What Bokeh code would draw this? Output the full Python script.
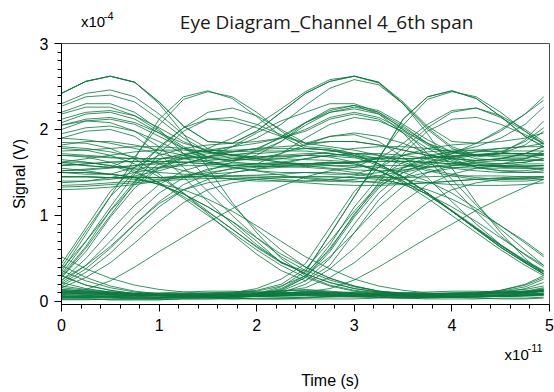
from bokeh.plotting import figure
from bokeh.models import Range1d, FixedTicker
from bokeh.layouts import column
from bokeh.core.properties import value
from bokeh.embed import file_html
from bokeh.resources import INLINE

# Time axis in units of 1e-11 s, signal in units of 1e-4 V
time_e11 = [0.0, 0.25, 0.5, 0.75, 1.0, 1.25, 1.5, 1.75, 2.0, 2.25, 2.5,
            2.75, 3.0, 3.25, 3.5, 3.75, 4.0, 4.25, 4.5, 4.75, 4.94]

x_ticks = [0, 1, 2, 3, 4, 5]
y_ticks = [0, 1, 2, 3]

low_traces = [
    [.06, .05, .05, .04, .04, .05, .05, .06, .06, .07, .08, .07, .06, .05, .05, .05, .05, .06, .06, .07, .08],
    [.10, .09, .08, .07, .07, .07, .08, .08, .09, .10, .11, .09, .07, .05, .04, .03, .03, .03, .04, .04, .05],
    [.03, .03, .02, .02, .02, .03, .03, .03, .04, .04, .05, .06, .07, .08, .08, .08, .09, .10, .11, .12, .13],
    [.14, .12, .10, .09, .08, .08, .08, .09, .10, .12, .14, .12, .10, .08, .07, .06, .06, .06, .07, .08, .10],
    [.08, .07, .06, .06, .05, .05, .05, .05, .06, .06, .07, .08, .09, .09, .09, .09, .10, .10, .11, .12, .14],
    [.30, .19, .13, .09, .07, .06, .05, .05, .06, .07, .08, .07, .06, .05, .05, .05, .05, .06, .06, .07, .08],
    [.42, .28, .18, .12, .09, .07, .06, .06, .07, .09, .12, .11, .10, .09, .08, .08, .08, .09, .10, .12, .16],
    [.12, .11, .10, .09, .09, .09, .10, .10, .11, .12, .13, .11, .09, .08, .07, .07, .07, .08, .10, .15, .22],
    [.04, .05, .06, .07, .07, .06, .05, .04, .03, .03, .04, .06, .08, .10, .10, .11, .12, .12, .11, .10, .09],
    [.16, .13, .11, .10, .10, .11, .12, .12, .11, .10, .09, .08, .07, .07, .07, .06, .05, .04, .03, .03, .04],
    [.22, .15, .11, .09, .08, .08, .08, .08, .09, .10, .11, .10, .08, .07, .06, .05, .05, .05, .06, .06, .07],
    [.06, .05, .05, .04, .04, .05, .05, .06, .06, .07, .08, .07, .06, .06, .05, .05, .06, .08, .13, .20, .30],
    [.52, .38, .27, .19, .14, .11, .09, .08, .08, .09, .10, .10, .09, .08, .08, .08, .09, .09, .10, .11, .12],
    [.09, .08, .08, .07, .06, .06, .06, .07, .07, .08, .09, .10, .10, .09, .08, .07, .06, .06, .07, .08, .10],
    [.02, .02, .03, .04, .04, .04, .04, .03, .03, .03, .03, .03, .03, .04, .04, .05, .05, .06, .07, .09, .12],
    [.11, .10, .09, .08, .07, .06, .06, .06, .06, .07, .08, .08, .07, .07, .06, .06, .06, .07, .08, .10, .13],
    [.07, .06, .06, .05, .05, .06, .07, .08, .08, .08, .07, .06, .05, .05, .04, .04, .05, .06, .08, .10, .14],
    [.13, .11, .09, .08, .07, .07, .07, .07, .08, .09, .10, .09, .08, .07, .06, .06, .06, .06, .06, .07, .09],
    [.05, .06, .07, .08, .09, .09, .08, .07, .06, .05, .05, .05, .06, .07, .08, .09, .10, .11, .12, .14, .18],
    [.18, .14, .11, .09, .08, .07, .07, .07, .07, .08, .09, .10, .11, .11, .10, .09, .08, .08, .09, .11, .15],
]

late_rise_traces = [
    [.06, .05, .05, .04, .04, .05, .05, .06, .08, .14, .28, .58, .98, 1.32, 1.55, 1.66, 1.72, 1.74, 1.75, 1.75, 1.75],
    [.03, .03, .02, .02, .02, .03, .03, .04, .06, .10, .20, .38, .62, .90, 1.16, 1.36, 1.48, 1.55, 1.58, 1.60, 1.60],
    [.14, .12, .10, .09, .08, .08, .08, .09, .10, .12, .16, .28, .45, .68, .93, 1.15, 1.30, 1.38, 1.42, 1.44, 1.45],
    [.30, .19, .13, .09, .07, .06, .05, .06, .09, .17, .35, .78, 1.22, 1.66, 2.12, 2.38, 2.45, 2.36, 2.15, 1.92, 1.80],
    [.08, .07, .06, .06, .05, .05, .05, .06, .08, .13, .28, .62, 1.00, 1.38, 1.72, 1.98, 2.12, 2.14, 2.06, 1.94, 1.84],
    [.10, .09, .08, .07, .07, .07, .08, .08, .09, .10, .11, .15, .25, .40, .57, .74, .90, 1.06, 1.20, 1.33, 1.42],
    [.10, .09, .08, .07, .07, .07, .08, .10, .15, .26, .44, .86, 1.28, 1.56, 1.70, 1.78, 1.82, 1.84, 1.86, 1.90, 1.96],
    [.12, .11, .10, .09, .09, .09, .10, .11, .13, .20, .38, .70, 1.05, 1.36, 1.56, 1.68, 1.74, 1.80, 1.90, 2.06, 2.26],
    [1.50, 1.50, 1.48, 1.44, 1.36, 1.25, 1.10, .93, .70, .45, .33, .60, 1.02, 1.34, 1.50, 1.56, 1.58, 1.58, 1.58, 1.58, 1.58],
    [1.85, 1.84, 1.78, 1.66, 1.48, 1.26, 1.02, .78, .55, .36, .24, .42, .80, 1.18, 1.44, 1.58, 1.66, 1.70, 1.72, 1.72, 1.72],
    [1.78, 1.76, 1.70, 1.60, 1.45, 1.26, 1.05, .84, .63, .45, .35, .78, 1.22, 1.66, 2.12, 2.38, 2.45, 2.36, 2.15, 1.92, 1.80],
    [.36, .24, .16, .11, .08, .06, .05, .05, .07, .12, .24, .50, .90, 1.26, 1.50, 1.62, 1.68, 1.70, 1.70, 1.70, 1.70],
    [.05, .04, .04, .04, .04, .04, .05, .06, .09, .15, .30, .66, 1.10, 1.44, 1.62, 1.70, 1.74, 1.76, 1.78, 1.80, 1.84],
    [.11, .10, .09, .08, .08, .08, .09, .10, .12, .18, .30, .52, .80, 1.10, 1.34, 1.50, 1.58, 1.62, 1.64, 1.64, 1.64],
]

early_rise_traces = [
    [.28, .58, .98, 1.32, 1.55, 1.66, 1.72, 1.74, 1.75, 1.75, 1.75, 1.72, 1.69, 1.67, 1.66, 1.67, 1.69, 1.71, 1.72, 1.72, 1.71],
    [.20, .38, .62, .90, 1.16, 1.36, 1.48, 1.55, 1.58, 1.60, 1.60, 1.61, 1.62, 1.63, 1.63, 1.62, 1.60, 1.58, 1.57, 1.57, 1.58],
    [.16, .28, .45, .68, .93, 1.15, 1.30, 1.38, 1.42, 1.44, 1.45, 1.45, 1.44, 1.44, 1.44, 1.45, 1.46, 1.46, 1.46, 1.45, 1.45],
    [.35, .78, 1.22, 1.66, 2.12, 2.38, 2.45, 2.36, 2.15, 1.92, 1.78, 1.76, 1.72, 1.66, 1.60, 1.52, 1.46, 1.42, 1.40, 1.40, 1.42],
    [.28, .62, 1.00, 1.38, 1.72, 1.98, 2.12, 2.14, 2.06, 1.94, 1.84, 1.86, 1.86, 1.82, 1.76, 1.70, 1.66, 1.64, 1.66, 1.72, 1.80],
    [.44, .86, 1.28, 1.56, 1.70, 1.78, 1.82, 1.84, 1.86, 1.90, 1.98, 2.12, 2.18, 2.12, 1.96, 1.78, 1.64, 1.56, 1.52, 1.50, 1.50],
    [.38, .70, 1.05, 1.36, 1.56, 1.68, 1.74, 1.80, 1.90, 2.06, 2.28, 2.48, 2.58, 2.52, 2.30, 2.02, 1.80, 1.70, 1.72, 1.82, 1.98],
    [.10, .14, .24, .40, .58, .75, .92, 1.08, 1.22, 1.34, 1.45, 1.52, 1.56, 1.58, 1.58, 1.57, 1.56, 1.55, 1.55, 1.55, 1.55],
    [.22, .42, .70, 1.00, 1.26, 1.44, 1.54, 1.58, 1.60, 1.61, 1.60, 1.62, 1.60, 1.52, 1.40, 1.24, 1.05, .85, .65, .47, .35],
    [.40, .82, 1.22, 1.50, 1.65, 1.72, 1.75, 1.76, 1.77, 1.78, 1.78, 1.76, 1.70, 1.60, 1.45, 1.26, 1.05, .84, .63, .45, .32],
    [.25, .42, .64, .90, 1.14, 1.30, 1.38, 1.42, 1.44, 1.45, 1.45, 1.45, 1.44, 1.42, 1.37, 1.30, 1.19, 1.05, .88, .70, .54],
    [.32, .70, 1.10, 1.48, 1.80, 2.02, 2.12, 2.10, 2.02, 1.92, 1.84, 1.92, 1.94, 1.86, 1.68, 1.44, 1.16, .90, .66, .46, .34],
    [.24, .50, .82, 1.12, 1.36, 1.52, 1.60, 1.64, 1.66, 1.66, 1.65, 1.64, 1.62, 1.66, 1.84, 2.06, 2.22, 2.25, 2.14, 1.98, 1.84],
    [.30, .64, 1.06, 1.40, 1.60, 1.70, 1.76, 1.80, 1.84, 1.90, 2.00, 2.14, 2.20, 2.14, 2.00, 1.82, 1.68, 1.60, 1.56, 1.55, 1.55],
    [.18, .34, .56, .84, 1.10, 1.30, 1.42, 1.50, 1.54, 1.56, 1.57, 1.58, 1.58, 1.56, 1.50, 1.40, 1.26, 1.08, .88, .68, .52],
]

early_fall_traces = [
    [1.70, 1.68, 1.62, 1.52, 1.38, 1.20, 1.00, .80, .60, .42, .28, .18, .12, .09, .07, .06, .05, .05, .06, .07, .08],
    [1.50, 1.50, 1.48, 1.44, 1.36, 1.25, 1.10, .93, .74, .55, .40, .27, .18, .12, .09, .07, .06, .06, .07, .09, .12],
    [2.42, 2.56, 2.62, 2.55, 2.30, 1.95, 1.55, 1.15, .80, .50, .30, .19, .13, .10, .09, .08, .08, .09, .10, .11, .12],
    [1.90, 1.98, 2.00, 1.92, 1.72, 1.45, 1.16, .90, .66, .46, .32, .22, .15, .11, .08, .07, .06, .06, .06, .07, .08],
    [1.45, 1.45, 1.44, 1.42, 1.37, 1.30, 1.19, 1.05, .88, .70, .52, .38, .26, .18, .13, .10, .09, .10, .13, .19, .28],
    [2.20, 2.30, 2.30, 2.20, 2.00, 1.72, 1.42, 1.12, .84, .60, .40, .27, .18, .12, .09, .07, .06, .06, .06, .07, .08],
    [1.62, 1.62, 1.58, 1.50, 1.38, 1.22, 1.04, .84, .64, .46, .32, .22, .15, .11, .09, .08, .08, .08, .09, .10, .12],
    [2.05, 2.10, 2.08, 1.98, 1.80, 1.56, 1.28, 1.00, .74, .52, .36, .25, .17, .12, .10, .09, .09, .10, .12, .17, .26],
]

late_fall_traces = [
    [1.70, 1.69, 1.67, 1.66, 1.66, 1.67, 1.69, 1.71, 1.72, 1.74, 1.78, 1.76, 1.70, 1.60, 1.45, 1.26, 1.05, .84, .63, .45, .32],
    [2.42, 2.56, 2.62, 2.55, 2.32, 2.04, 1.86, 1.84, 1.98, 2.20, 2.42, 2.56, 2.62, 2.55, 2.30, 1.95, 1.55, 1.15, .80, .50, .32],
    [1.60, 1.58, 1.56, 1.55, 1.56, 1.60, 1.68, 1.80, 1.96, 2.10, 2.20, 2.30, 2.30, 2.20, 2.00, 1.72, 1.42, 1.12, .84, .60, .42],
    [1.58, 1.60, 1.62, 1.63, 1.63, 1.62, 1.60, 1.58, 1.57, 1.58, 1.60, 1.62, 1.60, 1.52, 1.40, 1.24, 1.05, .85, .65, .47, .35],
    [1.45, 1.45, 1.44, 1.44, 1.44, 1.45, 1.46, 1.46, 1.47, 1.48, 1.50, 1.50, 1.48, 1.44, 1.36, 1.25, 1.10, .93, .74, .55, .42],
    [1.62, 1.58, 1.56, 1.68, 2.05, 2.35, 2.44, 2.38, 2.20, 1.98, 1.80, 1.78, 1.72, 1.60, 1.45, 1.26, 1.05, .84, .63, .45, .32],
    [2.30, 2.42, 2.46, 2.38, 2.18, 1.94, 1.78, 1.70, 1.68, 1.69, 1.70, 1.68, 1.62, 1.52, 1.38, 1.20, 1.00, .80, .60, .42, .30],
    [1.52, 1.54, 1.56, 1.58, 1.60, 1.62, 1.64, 1.66, 1.68, 1.70, 1.72, 1.72, 1.68, 1.58, 1.44, 1.26, 1.06, .86, .66, .48, .36],
    [2.18, 2.26, 2.26, 2.16, 1.98, 1.80, 1.68, 1.64, 1.70, 1.86, 2.08, 2.24, 2.28, 2.18, 1.96, 1.66, 1.34, 1.04, .76, .54, .40],
]

high_traces = [
    [2.42, 2.56, 2.62, 2.55, 2.32, 2.04, 1.86, 1.84, 1.98, 2.20, 2.42, 2.56, 2.62, 2.55, 2.32, 2.04, 1.86, 1.84, 1.98, 2.18, 2.38],
    [2.27, 2.38, 2.40, 2.32, 2.12, 1.90, 1.74, 1.66, 1.64, 1.66, 1.70, 1.69, 1.67, 1.66, 1.66, 1.67, 1.69, 1.71, 1.72, 1.72, 1.71],
    [1.35, 1.36, 1.38, 1.40, 1.42, 1.44, 1.45, 1.45, 1.44, 1.42, 1.40, 1.42, 1.46, 1.50, 1.56, 1.62, 1.72, 1.84, 2.00, 2.18, 2.34],
    [2.08, 2.18, 2.20, 2.12, 1.96, 1.78, 1.64, 1.56, 1.52, 1.50, 1.50, 1.48, 1.48, 1.56, 1.78, 2.02, 2.20, 2.25, 2.16, 2.00, 1.86],
    [1.82, 1.86, 1.86, 1.82, 1.76, 1.70, 1.66, 1.64, 1.66, 1.72, 1.82, 1.92, 1.96, 1.92, 1.84, 1.72, 1.62, 1.58, 1.60, 1.66, 1.75],
    [1.95, 2.02, 2.04, 1.98, 1.86, 1.72, 1.62, 1.58, 1.60, 1.72, 1.90, 2.06, 2.14, 2.10, 1.98, 1.84, 1.74, 1.70, 1.74, 1.86, 2.02],
    [1.50, 1.48, 1.48, 1.56, 1.78, 2.02, 2.20, 2.25, 2.16, 2.00, 1.84, 1.80, 1.76, 1.70, 1.62, 1.54, 1.48, 1.44, 1.42, 1.42, 1.44],
    [1.40, 1.40, 1.42, 1.46, 1.52, 1.60, 1.68, 1.74, 1.78, 1.80, 1.82, 1.86, 1.86, 1.82, 1.76, 1.70, 1.66, 1.64, 1.66, 1.72, 1.80],
    [1.80, 1.78, 1.74, 1.68, 1.60, 1.52, 1.46, 1.42, 1.40, 1.40, 1.40, 1.40, 1.42, 1.46, 1.52, 1.60, 1.68, 1.74, 1.78, 1.80, 1.80],
    [2.12, 2.20, 2.22, 2.16, 2.02, 1.86, 1.74, 1.70, 1.74, 1.86, 2.05, 2.20, 2.24, 2.18, 2.02, 1.84, 1.70, 1.62, 1.60, 1.62, 1.66],
    [1.45, 1.45, 1.44, 1.44, 1.44, 1.45, 1.46, 1.46, 1.46, 1.45, 1.44, 1.42, 1.40, 1.38, 1.37, 1.38, 1.40, 1.42, 1.44, 1.45, 1.45],
    [1.58, 1.60, 1.62, 1.63, 1.63, 1.62, 1.60, 1.58, 1.57, 1.57, 1.60, 1.58, 1.56, 1.68, 2.05, 2.35, 2.44, 2.38, 2.20, 1.98, 1.82],
    [1.72, 1.70, 1.68, 1.66, 1.66, 1.70, 1.78, 1.90, 2.05, 2.24, 2.44, 2.58, 2.62, 2.54, 2.30, 2.00, 1.78, 1.68, 1.72, 1.88, 2.10],
    [1.33, 1.34, 1.36, 1.38, 1.40, 1.42, 1.43, 1.43, 1.42, 1.40, 1.38, 1.36, 1.35, 1.35, 1.36, 1.38, 1.40, 1.42, 1.43, 1.43, 1.42],
    [2.00, 2.10, 2.12, 2.06, 1.92, 1.78, 1.68, 1.62, 1.60, 1.59, 1.58, 1.60, 1.62, 1.63, 1.63, 1.62, 1.60, 1.58, 1.57, 1.57, 1.58],
    [1.52, 1.53, 1.55, 1.58, 1.62, 1.66, 1.68, 1.68, 1.66, 1.62, 1.58, 1.55, 1.53, 1.52, 1.53, 1.56, 1.60, 1.64, 1.66, 1.66, 1.64],
    [1.65, 1.62, 1.58, 1.54, 1.50, 1.48, 1.48, 1.50, 1.54, 1.60, 1.66, 1.70, 1.72, 1.70, 1.66, 1.60, 1.55, 1.52, 1.50, 1.50, 1.52],
    [1.38, 1.40, 1.44, 1.50, 1.55, 1.58, 1.58, 1.56, 1.52, 1.47, 1.43, 1.40, 1.39, 1.40, 1.44, 1.50, 1.55, 1.58, 1.58, 1.56, 1.53],
    [1.75, 1.76, 1.78, 1.80, 1.80, 1.78, 1.74, 1.70, 1.68, 1.68, 1.70, 1.74, 1.78, 1.80, 1.80, 1.78, 1.74, 1.70, 1.68, 1.68, 1.70],
    [1.90, 1.88, 1.84, 1.78, 1.72, 1.66, 1.62, 1.60, 1.60, 1.62, 1.66, 1.70, 1.72, 1.72, 1.70, 1.66, 1.62, 1.60, 1.60, 1.62, 1.66],
    [1.30, 1.31, 1.33, 1.36, 1.40, 1.45, 1.50, 1.54, 1.56, 1.57, 1.56, 1.54, 1.50, 1.46, 1.42, 1.38, 1.36, 1.35, 1.35, 1.36, 1.38],
    [1.62, 1.66, 1.70, 1.74, 1.76, 1.76, 1.74, 1.70, 1.66, 1.62, 1.60, 1.60, 1.62, 1.66, 1.70, 1.74, 1.76, 1.76, 1.74, 1.70, 1.66],
    [2.05, 2.12, 2.14, 2.08, 1.96, 1.84, 1.76, 1.74, 1.78, 1.90, 2.08, 2.22, 2.28, 2.22, 2.06, 1.88, 1.74, 1.66, 1.64, 1.66, 1.72],
    [1.55, 1.52, 1.48, 1.45, 1.44, 1.46, 1.52, 1.62, 1.76, 1.92, 2.08, 2.20, 2.26, 2.20, 2.04, 1.84, 1.66, 1.56, 1.52, 1.52, 1.55],
]

all_traces = low_traces + late_rise_traces + early_rise_traces + early_fall_traces + late_fall_traces + high_traces
for tr in all_traces:
    assert len(tr) == len(time_e11), len(tr)

LINE = "#0b7b3e"
FONT = "Liberation Sans"
W = 554
HEAD_H = 34
MAIN_H = 306
FOOT_H = 392 - HEAD_H - MAIN_H


def text_strip(height):
    f = figure(width=W, height=height, x_range=Range1d(0, W), y_range=Range1d(height, 0),
               output_backend="svg", toolbar_location=None, min_border=0,
               x_axis_type=None, y_axis_type=None, title_location=None)
    f.outline_line_color = None
    f.background_fill_color = "white"
    f.border_fill_color = "white"
    f.grid.visible = False
    return f


def put_text(f, x, y, txt, font, size, align="left", color="black"):
    f.text(x=[x], y=[y], text=[txt], text_font=value(font), text_font_size=size,
           text_color=color, text_align=align, text_baseline="alphabetic")


# --- header strip: title and y multiplier ---
header = text_strip(HEAD_H)
put_text(header, 301, 21, "Eye Diagram_Channel 4_6th span", "Open Sans", "19px", "center", "#1a1a1a")
put_text(header, 22, 21, "x10", FONT, "15px")
put_text(header, 48, 15, "-4", FONT, "11px")

# --- main plot ---
p = figure(width=W, height=MAIN_H, x_range=Range1d(0, 5), y_range=Range1d(-0.035, 3.0),
           output_backend="svg", toolbar_location=None, title_location=None,
           min_border_left=61, min_border_right=5, min_border_top=9, min_border_bottom=36)
p.background_fill_color = "white"
p.border_fill_color = "white"
p.outline_line_color = "#4d4d4d"
p.outline_line_width = 1
p.xgrid.visible = False
p.ygrid.visible = False

p.multi_line(xs=[time_e11] * len(all_traces), ys=all_traces,
             line_color=LINE, line_width=0.9, line_alpha=0.9)

x_minor = [i * 0.2 for i in range(26)]
y_minor = [i * 0.1 for i in range(31)]
p.xaxis.ticker = FixedTicker(ticks=x_ticks, minor_ticks=x_minor)
p.yaxis.ticker = FixedTicker(ticks=y_ticks, minor_ticks=y_minor)

for ax in (p.xaxis[0], p.yaxis[0]):
    ax.axis_line_color = "black"
    ax.major_tick_line_color = "black"
    ax.minor_tick_line_color = "black"
    ax.major_tick_in = 0
    ax.minor_tick_in = 0
    ax.major_tick_out = 7
    ax.minor_tick_out = 4
    ax.major_label_text_font = FONT
    ax.major_label_text_font_size = "16px"
    ax.major_label_text_color = "black"
    ax.axis_label_text_font = FONT
    ax.axis_label_text_font_size = "16px"
    ax.axis_label_text_font_style = "normal"
    ax.axis_label_text_color = "black"

p.xaxis.major_label_standoff = 7
p.yaxis.major_label_standoff = 6
p.yaxis.axis_label = "Signal (V)"
p.yaxis.axis_label_standoff = 9

# --- footer strip: x multiplier and x label ---
footer = text_strip(FOOT_H)
put_text(footer, 503, 14, "x10", FONT, "15px")
put_text(footer, 529, 7, "-11", FONT, "11px")
put_text(footer, 305, 40, "Time (s)", FONT, "16px", "center")

layout = column(header, p, footer, spacing=0)

open("out.html", "w").write(file_html(layout, INLINE))
